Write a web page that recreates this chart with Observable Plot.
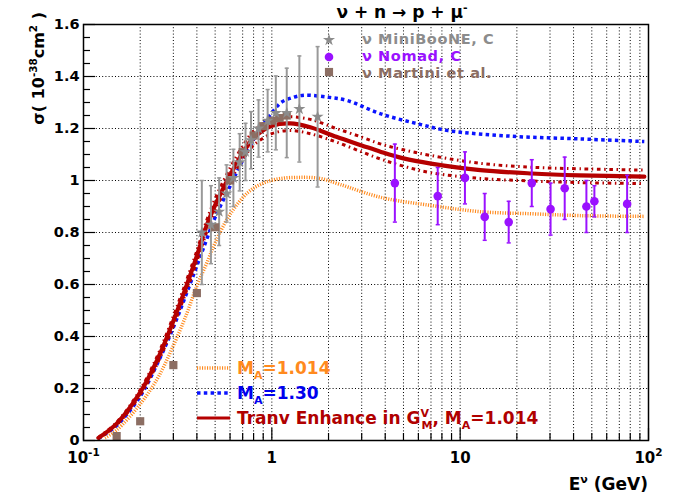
<!DOCTYPE html>
<html><head><meta charset="utf-8">
<script src="https://cdn.jsdelivr.net/npm/d3@7"></script>
<script src="https://cdn.jsdelivr.net/npm/@observablehq/plot@0.6"></script>
<style>
body{margin:0;background:#fff;}
svg text{font-family:"DejaVu Sans",sans-serif;font-weight:bold;}
</style></head><body><div id="chart"></div>
<script>
// ---- theory curves (E in GeV, sigma in 1e-38 cm^2) ----
const eRed   = [0.12,0.15,0.2,0.25,0.3,0.35,0.4,0.45,0.5,0.6,0.7,0.8,1.0,1.25,1.6,2.2,3.0,3.8,5.0,7.0,12.8,24,43,95];
const sRed   = [0.01,0.065,0.185,0.32,0.46,0.59,0.71,0.825,0.905,1.02,1.105,1.163,1.21,1.22,1.205,1.168,1.135,1.11,1.085,1.065,1.04,1.027,1.02,1.015];
const sRedUp = [0.012,0.07,0.195,0.335,0.478,0.61,0.73,0.845,0.93,1.048,1.132,1.19,1.235,1.245,1.235,1.20,1.167,1.14,1.118,1.096,1.066,1.051,1.045,1.04];
const sRedLo = [0.008,0.06,0.175,0.305,0.442,0.57,0.69,0.80,0.885,0.998,1.08,1.135,1.18,1.192,1.18,1.148,1.11,1.082,1.055,1.03,1.008,0.998,0.992,0.988];

const eBlue = [0.12,0.15,0.2,0.25,0.3,0.35,0.4,0.45,0.5,0.6,0.7,0.8,0.9,1.0,1.12,1.3,1.5,2.0,2.5,3.8,6.2,8.6,19,43,95];
const sBlue = [0.008,0.058,0.17,0.305,0.435,0.56,0.672,0.772,0.858,0.978,1.078,1.158,1.215,1.26,1.30,1.32,1.328,1.32,1.308,1.256,1.215,1.192,1.17,1.16,1.15];

const eOrange = [0.13,0.15,0.2,0.25,0.3,0.35,0.4,0.45,0.5,0.6,0.75,0.9,1.1,1.4,1.8,2.3,3.8,7,12.8,24,43,95];
const sOrange = [0.01,0.04,0.14,0.245,0.365,0.48,0.595,0.68,0.76,0.87,0.955,0.99,1.007,1.012,1.008,0.985,0.935,0.904,0.88,0.872,0.865,0.862];

// ---- data points ----
const mbE   = [0.425,0.475,0.525,0.575,0.625,0.675,0.725,0.775,0.85,0.95,1.05,1.2,1.4,1.75];
const mbSig = [0.80,0.83,0.88,0.95,1.01,1.07,1.11,1.155,1.20,1.23,1.26,1.26,1.275,1.245];
const mbErr = [0.20,0.15,0.13,0.11,0.11,0.11,0.11,0.11,0.11,0.12,0.142,0.172,0.204,0.27];

const nomadE   = [4.5,7.6,10.6,13.5,18.1,24,30.2,35.9,46.8,51.6,77];
const nomadSig = [0.99,0.94,1.01,0.86,0.84,0.99,0.89,0.97,0.90,0.92,0.91];
const nomadHi  = [1.14,1.05,1.11,0.95,0.92,1.08,0.99,1.09,1.00,0.98,1.02];
const nomadLo  = [0.84,0.83,0.91,0.77,0.76,0.90,0.79,0.85,0.80,0.86,0.80];

const martiniE   = [0.15,0.2,0.3,0.4,0.5,0.6,0.7,0.8,0.9,1.0,1.1,1.2];
const martiniSig = [0.017,0.074,0.29,0.567,0.82,1.0,1.109,1.173,1.209,1.23,1.24,1.25];

// ---- axes ----
const xMajor = [0.1,1,10,100];
const xTickBase = ["10","1","10","10"];
const xTickExp  = ["-1","","","2"];
const xMinor = [0.2,0.3,0.4,0.5,0.6,0.7,0.8,0.9,2,3,4,5,6,7,8,9,20,30,40,50,60,70,80,90];
const gridX = [0.2,0.3,0.4,0.5,0.6,0.7,0.8,0.9,1,2,3,4,5,6,7,8,9,10,20,30,40,50,60,70,80,90];
const yMajor = [0,0.2,0.4,0.6,0.8,1,1.2,1.4,1.6];
const yTickLabels = ["0","0.2","0.4","0.6","0.8","1","1.2","1.4","1.6"];
const yMinor = [0.05,0.1,0.15,0.25,0.3,0.35,0.45,0.5,0.55,0.65,0.7,0.75,0.85,0.9,0.95,1.05,1.1,1.15,1.25,1.3,1.35,1.45,1.5,1.55];
const gridY = [0.2,0.4,0.6,0.8,1,1.2,1.4];

const RED="#b50000", BLUE="#0a14ff", ORANGE="#ff8a1e", PURPLE="#9a11ff", GREY="#999999", STARGREY="#8c8c8c", BROWN="#8c6e63";

const zipc = (xs, ys) => xs.map((x,i)=>({E:x, s:ys[i]}));
const redData = zipc(eRed, sRed), redUp = zipc(eRed, sRedUp), redLo = zipc(eRed, sRedLo);
const blueData = zipc(eBlue, sBlue), orangeData = zipc(eOrange, sOrange);
const mb = mbE.map((e,i)=>({E:e, s:mbSig[i], lo:mbSig[i]-mbErr[i], hi:mbSig[i]+mbErr[i]}));
const nomad = nomadE.map((e,i)=>({E:e, s:nomadSig[i], lo:nomadLo[i], hi:nomadHi[i]}));
const martini = zipc(martiniE, martiniSig);
const xIdx = new Map(xMajor.map((v,i)=>[v,i]));
const yLab = new Map(yMajor.map((v,i)=>[v,yTickLabels[i]]));

const capSymbol = {draw(ctx, size){const w=Math.sqrt(size); ctx.moveTo(-w/2,0); ctx.lineTo(w/2,0);}};
const font = {fontFamily:"DejaVu Sans", fontWeight:"bold"};
const dashed = (stroke, w, dash) => ({x:"E", y:"s", curve:"catmull-rom", stroke, strokeWidth:w, strokeDasharray:dash, strokeLinecap:"butt", strokeLinejoin:"miter"});

const chart = Plot.plot({
  width: 686, height: 498,
  marginLeft: 83, marginRight: 38, marginTop: 24, marginBottom: 58,
  x: {type:"log", domain:[0.1,100]},
  y: {domain:[0,1.6]},
  style: {fontFamily:"DejaVu Sans", background:"white", color:"black"},
  marks: [
    Plot.ruleX(gridX, {x:d=>d, stroke:"#000", strokeWidth:1, strokeDasharray:"1,2.2"}),
    Plot.ruleY(gridY, {y:d=>d, stroke:"#000", strokeWidth:1, strokeDasharray:"1,2.2"}),
    Plot.tickX(xMajor, {x:d=>d, insetTop:416-12, stroke:"#000", strokeWidth:1.2}),
    Plot.tickX(xMinor, {x:d=>d, insetTop:416-7, stroke:"#000", strokeWidth:1.2}),
    Plot.tickY(yMajor, {y:d=>d, insetRight:565-12, stroke:"#000", strokeWidth:1.2}),
    Plot.tickY(yMinor, {y:d=>d, insetRight:565-7, stroke:"#000", strokeWidth:1.2}),
    Plot.line(orangeData, dashed(ORANGE, 3.5, "1.1,1.4")),
    Plot.line(blueData, dashed(BLUE, 3.5, "3.5,3.3")),
    Plot.line(redData, {x:"E", y:"s", curve:"catmull-rom", stroke:RED, strokeWidth:4.2}),
    Plot.line(redUp, dashed(RED, 3, "3.6,3.6,1.5,3.6")),
    Plot.line(redLo, dashed(RED, 3, "3.6,3.6,1.5,3.6")),
    Plot.ruleX(mb, {x:"E", y1:"lo", y2:"hi", stroke:GREY, strokeWidth:2}),
    Plot.dot(mb, {x:"E", y:"lo", symbol:capSymbol, r:2.3, stroke:GREY, strokeWidth:1.5}),
    Plot.dot(mb, {x:"E", y:"hi", symbol:capSymbol, r:2.3, stroke:GREY, strokeWidth:1.5}),
    Plot.dot(martini, {x:"E", y:"s", symbol:"square", r:4.6, fill:BROWN, stroke:null}),
    Plot.dot(mb, {x:"E", y:"s", symbol:"star", r:3.8, fill:STARGREY, stroke:null}),
    Plot.ruleX(nomad, {x:"E", y1:"lo", y2:"hi", stroke:PURPLE, strokeWidth:2}),
    Plot.dot(nomad, {x:"E", y:"lo", symbol:capSymbol, r:2.3, stroke:PURPLE, strokeWidth:1.5}),
    Plot.dot(nomad, {x:"E", y:"hi", symbol:capSymbol, r:2.3, stroke:PURPLE, strokeWidth:1.5}),
    Plot.dot(nomad, {x:"E", y:"s", r:4.3, fill:PURPLE, stroke:null}),
    Plot.axisY({ticks:yMajor, tickSize:0, tickPadding:4, tickFormat:d=>yLab.get(d), label:null, fontSize:14.5, ...font}),
    Plot.axisX({ticks:xMajor, tickSize:0, tickPadding:12, tickFormat:d=>xTickBase[xIdx.get(d)], label:null, fontSize:15, ...font}),
    Plot.frame({stroke:"#000", strokeWidth:1.5})
  ]
});
document.getElementById("chart").appendChild(chart);

const svg = d3.select(chart);
// add exponent to x tick labels produced by the Plot axis
svg.selectAll('g[aria-label="x-axis tick label"] text').each(function(d, i) {
  const exp = xTickExp[i];
  if (exp) {
    const t = d3.select(this);
    const base = t.text();
    t.text(null);
    t.append("tspan").text(base);
    t.append("tspan").text(exp).attr("font-size", 10.5).attr("dy", -7);
  }
});

// ---- rich text labels (super/subscripts) ----
function rich(parts, {x, y, size, fill="#000", anchor="start", transform=null, spacing=0}) {
  const t = svg.append("text").attr("x", transform?0:x).attr("y", transform?0:y)
    .attr("text-anchor", anchor).attr("font-size", size).attr("fill", fill)
    .style("font-family","DejaVu Sans").style("font-weight","bold");
  if (spacing) t.attr("letter-spacing", spacing);
  if (transform) t.attr("transform", transform);
  let cur = 0;
  for (const p of parts) {
    const [txt, type, dx] = Array.isArray(p) ? p : [p, "", 0];
    const target = type==="sup" ? -0.42*size : type==="sub" ? 0.3*size : 0;
    const ts = t.append("tspan").text(txt).attr("dy", target-cur)
      .attr("font-size", type ? size*0.65 : size);
    if (dx) ts.attr("dx", dx);
    cur = target;
  }
  return t;
}
// title
rich(["\u03BD + n \u2192 p + \u03BC", ["-","sup"]], {x:402, y:18, size:17, anchor:"middle"});
// axis titles
rich(["E", ["\u03BD","sup"], [" (GeV)","",0]], {x:648, y:490, size:17, anchor:"end"});
rich(["\u03C3( 10", ["-38","sup"], ["cm",""], ["2","sup"], [" )",""]], {size:16, anchor:"end", transform:"translate(44,12) rotate(-90)"});

// top-right legend
const sym = (type, r) => d3.symbol(type, Math.PI*r*r)();
svg.append("path").attr("d", sym(d3.symbolStar, 3.8)).attr("transform","translate(329,40)").attr("fill",STARGREY);
svg.append("circle").attr("cx",329).attr("cy",57).attr("r",4.3).attr("fill",PURPLE);
svg.append("path").attr("d", sym(d3.symbolSquare, 4.6)).attr("transform","translate(329,72)").attr("fill",BROWN);
rich(["\u03BD MiniBooNE, C"], {x:362, y:44, size:14.5, fill:"#8c8c8c", spacing:0.6});
rich(["\u03BD Nomad, C"], {x:362, y:61, size:14.5, fill:PURPLE, spacing:0.6});
rich(["\u03BD Martini et al."], {x:362, y:78, size:14.5, fill:BROWN, spacing:0.6});

// bottom-left legend
const leg = [
  {y:368, stroke:ORANGE, w:3.5, dash:"1.1,1.4"},
  {y:393, stroke:BLUE, w:3.5, dash:"3.5,3.3"},
  {y:418, stroke:RED, w:3, dash:null}
];
for (const l of leg) {
  const ln = svg.append("line").attr("x1",197).attr("x2",230).attr("y1",l.y).attr("y2",l.y)
    .attr("stroke",l.stroke).attr("stroke-width",l.w);
  if (l.dash) ln.attr("stroke-dasharray", l.dash);
}
rich(["M", ["A","sub"], ["=1.014",""]], {x:237, y:374, size:17, fill:ORANGE});
rich(["M", ["A","sub"], ["=1.30",""]], {x:237, y:399, size:17, fill:"#0000ee"});
rich(["Tranv Enhance in G", ["V","sup"], ["M","sub",-7.5], [", M",""], ["A","sub"], ["=1.014",""]], {x:237, y:424, size:17, fill:"#b00000"});
</script>
</body></html>
